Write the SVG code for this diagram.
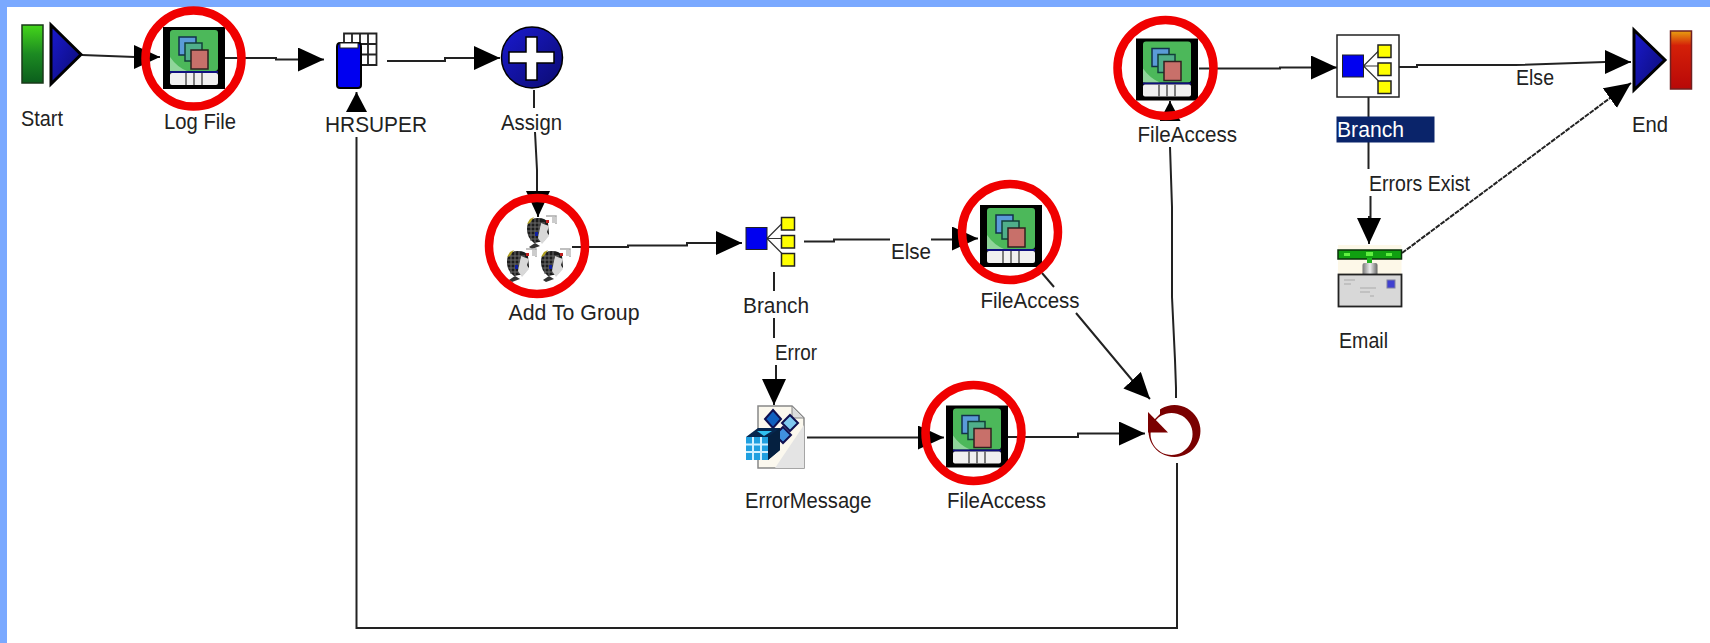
<svg xmlns="http://www.w3.org/2000/svg" width="1710" height="643" viewBox="0 0 1710 643">
<style>
text{font-family:"Liberation Sans",Arial,sans-serif;font-size:22.5px;fill:#222}
.c{fill:none;stroke:#222;stroke-width:2}
.a{marker-end:url(#ah)}
.s{marker-end:url(#ahs)}
.ring{fill:none;stroke:#f00000;stroke-width:8.5}
.y{fill:#ffff00;stroke:#222;stroke-width:1.5}
.b{fill:#0000f0;stroke:#222;stroke-width:1}
</style>
<defs>
<marker id="ah" markerUnits="userSpaceOnUse" markerWidth="28" markerHeight="28" refX="26" refY="12" orient="auto"><path d="M0 0L26 12L0 24Z" fill="#000"/></marker>
<marker id="ahs" markerUnits="userSpaceOnUse" markerWidth="22" markerHeight="22" refX="20" refY="10.500" orient="auto"><path d="M0 0L20 10.500L0 21Z" fill="#000"/></marker>
<linearGradient id="gs" x1="0" y1="0" x2="0" y2="1"><stop offset="0" stop-color="#44d61a"/><stop offset=".5" stop-color="#1c8a22"/><stop offset="1" stop-color="#0b5e1c"/></linearGradient>
<linearGradient id="ge" x1="0" y1="0" x2="0" y2="1"><stop offset="0" stop-color="#e8a010"/><stop offset=".25" stop-color="#d42008"/><stop offset="1" stop-color="#b80808"/></linearGradient>
<linearGradient id="gk" x1="0" y1="0" x2="1" y2="0"><stop offset="0" stop-color="#777"/><stop offset=".5" stop-color="#eee"/><stop offset="1" stop-color="#666"/></linearGradient>
<linearGradient id="gb" x1="0" y1="0" x2="1" y2="1"><stop offset="0" stop-color="#1a1ad0"/><stop offset="1" stop-color="#0b0b70"/></linearGradient>
<g id="file">
<rect width="62" height="62" fill="#000"/>
<rect x="7" y="3" width="48" height="41" rx="3" fill="#4cb85a"/>
<path d="M7 30Q14 40 24 44H7Z" fill="#8fd59a"/>
<rect x="16" y="10" width="17" height="18" fill="#5a9bd8" stroke="#12304a" stroke-width="1.500"/>
<rect x="22" y="16" width="17" height="18" fill="#4fae8a" stroke="#12403a" stroke-width="1.500"/>
<rect x="28" y="23" width="17" height="19" fill="#c8706a" stroke="#302020" stroke-width="1.500"/>
<rect x="7" y="44" width="48" height="2" fill="#101080"/>
<rect x="7" y="46" width="48" height="12" rx="2" fill="#f0f0f0"/>
<path d="M23 46V58M31 46V58M39 46V58" stroke="#555" stroke-width="1.500"/>
</g>
<g id="head">
<path d="M8 -16H18V-8" fill="none" stroke="#aaa" stroke-width="1.500"/>
<rect x="14" y="-15" width="5" height="6" fill="#ccc"/>
<path d="M-11 -3Q-11 -14 0 -14Q8 -14 10 -9L11 2L6 9L-4 11Q-11 6 -11 -3Z" fill="#1c1c1c"/>
<path d="M-10 -9h17M-11 -5h18M-11 -1h15M-10 3h13M-7 7h9M-7 -13v22M-3 -14v24M1 -14v23" stroke="#6a6a6a" stroke-width="1"/>
<path d="M-11 -8L-8 -13L-4 -15L-8 -9Z" fill="#b0a020"/>
<path d="M3 -9L11 -6L9 0L11 4L4 12L0 6Z" fill="#d8d8d8"/>
<path d="M-9 15L-3 11L2 14L-6 17Z" fill="#333"/>
<rect x="8" y="-12" width="3" height="3" fill="#c02020"/>
<rect x="-3" y="0" width="3" height="4" fill="#1020a0"/>
</g>
<g id="tree">
<path d="M21 11L36 -4M21 11H36M21 11L36 26" stroke="#333" stroke-width="1.200" fill="none"/>
<rect x="0" y="0" width="21" height="22" class="b"/>
<rect x="35.500" y="-10" width="13" height="12.500" class="y"/>
<rect x="35.500" y="8" width="13" height="12.500" class="y"/>
<rect x="35.500" y="26" width="13" height="12.500" class="y"/>
</g>
</defs>
<rect width="1710" height="643" fill="#fff"/>
<rect width="1710" height="7" fill="#7aa9ff"/>
<rect width="7" height="643" fill="#7aa9ff"/>

<g id="connectors">
<path class="c a" d="M82 55L135 57H160"/>
<path class="c a" d="M225 58H276V59.500H324"/>
<path class="c a" d="M387 61H445V58H500"/>
<path class="c" d="M534 90V108"/>
<path class="c a" d="M535 132L537 170V192H538V217"/>
<path class="c a" d="M572 247H628V245.500H687V243H742"/>
<path class="c" d="M804 241.500H834V239.500H890M931 239.500H955"/>
<path class="c a" d="M952 238.500H978"/>
<path class="c" d="M774 272V291M774 318V338"/>
<path class="c a" d="M776 365V380H774V405"/>
<path class="c a" d="M807 437.500H944"/>
<path class="c a" d="M1008 437H1078V433.500H1145"/>
<path class="c" d="M1042 273L1054 287"/>
<path class="c a" d="M1076 313L1132 380L1150 399"/>
<path class="c" d="M1177 463V628H356.500V137"/>
<path class="c s" d="M356.500 112V92"/>
<path class="c" d="M1176 398V388L1175 360L1172 297V207L1170 147"/>
<path class="c s" d="M1170 121V101"/>
<path class="c a" d="M1199 68.500H1280V67.500H1337"/>
<path class="c a" d="M1399 67H1417V65H1515L1605 62H1631"/>
<path class="c" d="M1368.500 97V169"/>
<path class="c a" d="M1370.500 196V217H1369V244"/>
<path class="c a" d="M1402 253L1610 98L1631 83" stroke-dasharray="5 1"/>
</g>

<g id="start">
<rect x="22" y="25" width="21" height="58" fill="url(#gs)" stroke="#1a3a1a" stroke-width="1.500"/>
<path d="M51 25L81 54.500L51 84Z" fill="url(#gb)" stroke="#000" stroke-width="3"/>
<text x="21" y="126" textLength="42" lengthAdjust="spacingAndGlyphs">Start</text>
</g>
<g id="logfile">
<use href="#file" x="163" y="27"/>
<circle cx="193.500" cy="58.500" r="48" class="ring"/>
<text x="164" y="129" textLength="72" lengthAdjust="spacingAndGlyphs">Log File</text>
</g>
<g id="hrsuper">
<path d="M344 33.500H376.500V65H344ZM344 44H376.500M344 54.500H376.500M352 33.500V44M360 33.500V65M368 33.500V65" fill="#fff" stroke="#222" stroke-width="1.800"/>
<path d="M337 47Q337 43 340 43H359Q361 43 361 47V85Q361 88 358 88H340Q337 88 337 85Z" fill="#0000f0" stroke="#000" stroke-width="2"/>
<rect x="340" y="43" width="18" height="5" fill="#fff" stroke="#222"/>
<text x="325" y="131.500" textLength="102" lengthAdjust="spacingAndGlyphs">HRSUPER</text>
</g>
<g id="assign">
<circle cx="532" cy="57.500" r="30.500" fill="url(#gb)" stroke="#000" stroke-width="1.500"/>
<path d="M526 37H537V52H554V63H537V80H526V63H509V52H526Z" fill="#fff" stroke="#000" stroke-width="1.500"/>
<text x="501" y="130" textLength="61" lengthAdjust="spacingAndGlyphs">Assign</text>
</g>
<g id="addtogroup">
<use href="#head" x="538" y="232"/>
<use href="#head" x="518" y="265"/>
<use href="#head" x="552" y="265"/>
<circle cx="537" cy="246" r="48" class="ring"/>
<text x="508.500" y="320" textLength="131" lengthAdjust="spacingAndGlyphs">Add To Group</text>
</g>
<g id="branch1">
<use href="#tree" x="746" y="227.500"/>
<text x="743" y="313" textLength="66" lengthAdjust="spacingAndGlyphs">Branch</text>
</g>
<g id="fileaccess-else">
<use href="#file" x="980" y="205"/>
<circle cx="1010" cy="232" r="48" class="ring"/>
<text x="980.500" y="308" textLength="99" lengthAdjust="spacingAndGlyphs">FileAccess</text>
</g>
<g id="errormessage">
<path d="M758 406H792L804 418V468H758Z" fill="#fbf8ee" stroke="#888" stroke-width="1.500"/>
<path d="M792 406V418H804Z" fill="#ddd" stroke="#888"/>
<path d="M804 425V468H775Z" fill="#e4e4e4"/>
<path d="M773 410L781 419L773 428L765 419Z" fill="#1060c0" stroke="#101050" stroke-width="2"/>
<path d="M790 415L798 423L790 431L782 423Z" fill="#80c8f0" stroke="#101050" stroke-width="2"/>
<path d="M783 427L791 435L783 443L775 435Z" fill="#4090e0" stroke="#101050" stroke-width="2"/>
<path d="M746 437L758 428H780V450L768 460H746Z" fill="#06264e"/>
<path d="M746 437H768V460H746Z" fill="#20a0e0"/>
<path d="M746 444.500H768M746 452H768M753 437V460M761 437V460" stroke="#d0f0ff" stroke-width="2"/>
<path d="M768 437L780 428V450L768 460Z" fill="#052040"/>
<path d="M757 431L772 431L764 436Z" fill="#30c0f0"/>
<text x="745" y="508" textLength="126.500" lengthAdjust="spacingAndGlyphs">ErrorMessage</text>
</g>
<g id="fileaccess-error">
<use href="#file" x="946" y="405.500"/>
<circle cx="973.500" cy="433" r="48" class="ring"/>
<text x="947" y="508" textLength="99" lengthAdjust="spacingAndGlyphs">FileAccess</text>
</g>
<g id="loop">
<path d="M1174.500 405a26 26 0 1 1 -0.100 0ZM1171.500 413a21 21 0 1 0 0.100 0Z" fill="#7a0000" fill-rule="evenodd"/>
<path d="M1146 404H1160V414L1152 422H1146Z" fill="#fff"/>
<path d="M1148 412L1168 432.500H1148Z" fill="#7a0000"/>
</g>
<g id="fileaccess-top">
<use href="#file" x="1136" y="38.500"/>
<circle cx="1165.500" cy="68" r="48" class="ring"/>
<text x="1137.500" y="141.500" textLength="99.500" lengthAdjust="spacingAndGlyphs">FileAccess</text>
</g>
<g id="branch2">
<rect x="1337" y="35" width="62" height="62" fill="#fff" stroke="#222" stroke-width="1.500"/>
<use href="#tree" x="1342.500" y="55"/>
<rect x="1336.500" y="116.500" width="98" height="26" fill="#0a246a"/>
<text x="1337" y="137" textLength="67" lengthAdjust="spacingAndGlyphs" style="fill:#fff">Branch</text>
</g>
<g id="email">
<rect x="1338" y="245" width="63.500" height="30" fill="#fdf8e8"/>
<rect x="1338" y="250" width="63.500" height="9" fill="#10a010" stroke="#0a300a" stroke-width="1.500"/>
<rect x="1344" y="253" width="6" height="3" fill="#60f040"/>
<rect x="1366" y="252" width="7" height="4" fill="#60f040"/>
<rect x="1386" y="253" width="6" height="3" fill="#60f040"/>
<rect x="1367" y="258" width="5" height="6" fill="#20b020"/>
<rect x="1362.500" y="263" width="15" height="15" rx="2" fill="url(#gk)"/>
<rect x="1338.500" y="274.500" width="63" height="32" fill="#d8d8d8" stroke="#222" stroke-width="1.800"/>
<rect x="1387" y="280" width="8" height="8" fill="#4040d0" stroke="#8080a0"/>
<path d="M1344 280h11M1344 284h7M1360 288h16M1360 292h10M1370 296h4" stroke="#aaa" stroke-width="1"/>
<text x="1339" y="348" textLength="49" lengthAdjust="spacingAndGlyphs">Email</text>
</g>
<g id="end">
<path d="M1634 30L1665 60L1634 90Z" fill="url(#gb)" stroke="#000" stroke-width="3"/>
<rect x="1670.500" y="31" width="21" height="58" fill="url(#ge)" stroke="#702020" stroke-width="1.500"/>
<text x="1632" y="131.500" textLength="36" lengthAdjust="spacingAndGlyphs">End</text>
</g>
<g id="edge-labels">
<text x="891" y="259" textLength="40" lengthAdjust="spacingAndGlyphs">Else</text>
<text x="775" y="360" textLength="42" lengthAdjust="spacingAndGlyphs">Error</text>
<text x="1369" y="191" textLength="101" lengthAdjust="spacingAndGlyphs">Errors Exist</text>
<text x="1516" y="85" textLength="38" lengthAdjust="spacingAndGlyphs">Else</text>
</g>
</svg>
